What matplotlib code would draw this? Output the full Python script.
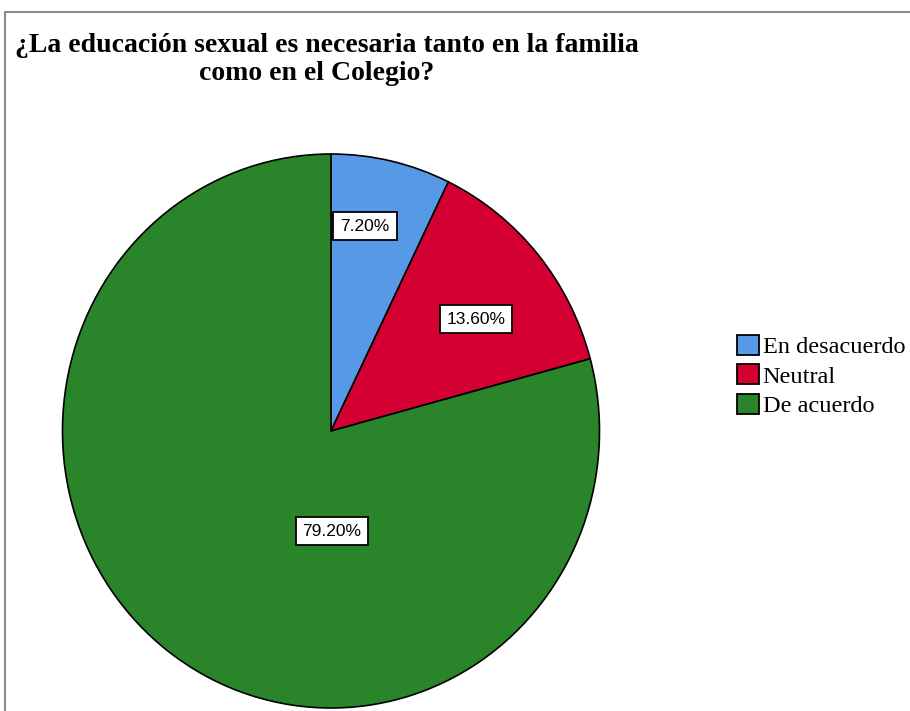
import matplotlib
matplotlib.use("Agg")
import matplotlib.pyplot as plt
from matplotlib.patches import Patch
from matplotlib.lines import Line2D

categories = ["En desacuerdo", "Neutral", "De acuerdo"]
values = [7.2, 13.6, 79.2]
labels = ["7.20%", "13.60%", "79.20%"]
colors = ["#5799E6", "#D50032", "#2A842A"]
title_lines = ["¿La educación sexual es necesaria tanto en la familia",
               "como en el Colegio?"]

W, H = 910, 711
fig = plt.figure(figsize=(W / 100, H / 100), dpi=100)
ax = fig.add_axes([0, 0, 1, 1])

cx, cy, rx, ry = 331, 431, 268.5, 277
wedges, _ = ax.pie(values, colors=colors, startangle=90, counterclock=False,
                   radius=1, center=(0, 0),
                   wedgeprops=dict(edgecolor="black", linewidth=1.2))
ax.set_aspect("auto")
ax.set_xlim(-cx / rx, (W - cx) / rx)
ax.set_ylim(-(H - cy) / ry, cy / ry)
ax.axis("off")

# label positions (pixel coords of box centres)
label_px = [(365, 226), (476, 319), (332, 531)]
for lab, (px, py) in zip(labels, label_px):
    ax.text((px - cx) / rx, (cy - py) / ry, lab, ha="center", va="center",
            fontsize=12.5, family="Liberation Sans",
            bbox=dict(boxstyle="square,pad=0.4", fc="white", ec="black", lw=1.3))

for line, (tx, ty) in zip(title_lines, [(327, 46), (317, 74)]):
    fig.text(tx / W, 1 - ty / H, line, ha="center", va="center", fontsize=20,
             fontweight="bold", family="Liberation Serif")

# frame
fig.add_artist(Line2D([5 / W, 5 / W, 1], [0, 1 - 12 / H, 1 - 12 / H],
                      transform=fig.transFigure, color="#8a8a8a", lw=1.5))

handles = [Patch(facecolor=c, edgecolor="black", lw=1.3) for c in colors]
fig.legend(handles, categories, loc="center left",
           bbox_to_anchor=(737 / W, 1 - 376 / H), frameon=False,
           prop=dict(family="Liberation Serif", size=17.5),
           handlelength=0.9, handleheight=0.9, handletextpad=0.15,
           labelspacing=0.25, borderpad=0, borderaxespad=0)

fig.savefig("out.png", dpi=100)
